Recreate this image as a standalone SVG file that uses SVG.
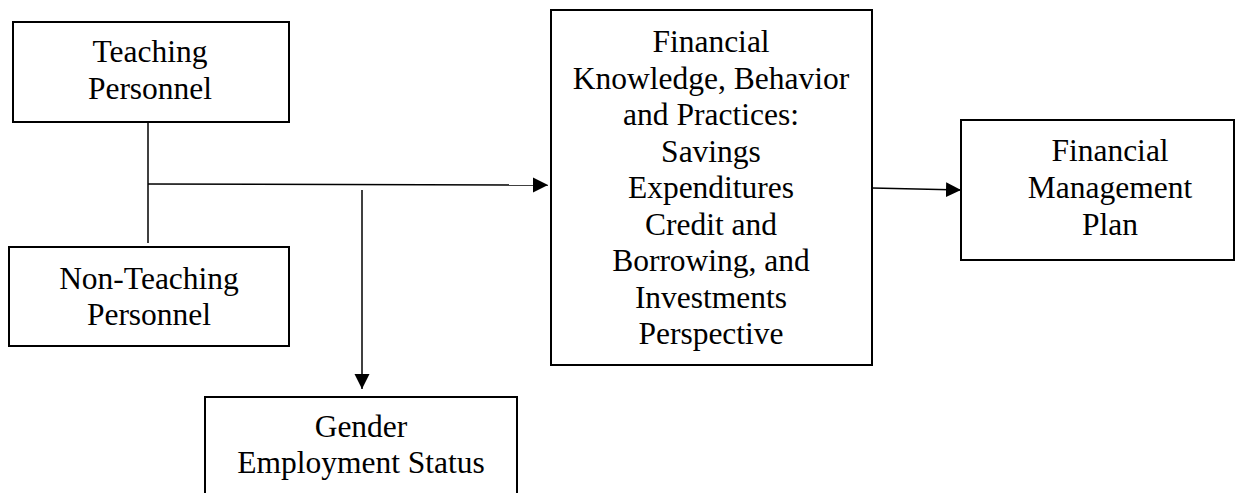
<svg xmlns="http://www.w3.org/2000/svg" width="1236" height="493" viewBox="0 0 1236 493">
  <style>
    .box { fill: #ffffff; stroke: #000000; stroke-width: 2; }
    .lbl { font-family: "Liberation Serif", "Times New Roman", serif; font-size: 31.5px; fill: #000000; text-anchor: middle; }
    .conn { stroke: #000000; stroke-width: 1.5; fill: none; }
  </style>
  <defs>
    <marker id="arr" markerUnits="userSpaceOnUse" markerWidth="16" markerHeight="16" refX="15" refY="7.5" orient="auto">
      <path d="M0,0 L15,7.5 L0,15 Z" fill="#000000"/>
    </marker>
  </defs>
  <rect width="1236" height="493" fill="#ffffff"/>

  <g id="connectors">
    <line class="conn" x1="148" y1="122" x2="148" y2="243"/>
    <line class="conn" x1="148" y1="184" x2="548" y2="185" marker-end="url(#arr)"/>
    <line class="conn" x1="362" y1="190" x2="362" y2="389" marker-end="url(#arr)"/>
    <line class="conn" x1="872" y1="188" x2="961" y2="190" marker-end="url(#arr)"/>
  </g>

  <g id="teaching">
    <rect class="box" x="13" y="22" width="276" height="100"/>
    <text class="lbl" x="150" y="62">Teaching</text>
    <text class="lbl" x="150" y="99">Personnel</text>
  </g>

  <g id="non-teaching">
    <rect class="box" x="9" y="247" width="280" height="99"/>
    <text class="lbl" x="149" y="289">Non-Teaching</text>
    <text class="lbl" x="149" y="325">Personnel</text>
  </g>

  <g id="gender">
    <rect class="box" x="205" y="397" width="312" height="110"/>
    <text class="lbl" x="361" y="437">Gender</text>
    <text class="lbl" x="361" y="473">Employment Status</text>
  </g>

  <g id="financial-knowledge">
    <rect class="box" x="551" y="10" width="321" height="355"/>
    <text class="lbl" x="711" y="52">Financial</text>
    <text class="lbl" x="711" y="88.5">Knowledge, Behavior</text>
    <text class="lbl" x="711" y="125">and Practices:</text>
    <text class="lbl" x="711" y="161.5">Savings</text>
    <text class="lbl" x="711" y="198">Expenditures</text>
    <text class="lbl" x="711" y="234.5">Credit and</text>
    <text class="lbl" x="711" y="271">Borrowing, and</text>
    <text class="lbl" x="711" y="307.5">Investments</text>
    <text class="lbl" x="711" y="344">Perspective</text>
  </g>

  <g id="management-plan">
    <rect class="box" x="961" y="120" width="273" height="140"/>
    <text class="lbl" x="1110" y="161">Financial</text>
    <text class="lbl" x="1110" y="198">Management</text>
    <text class="lbl" x="1110" y="235">Plan</text>
  </g>
</svg>
